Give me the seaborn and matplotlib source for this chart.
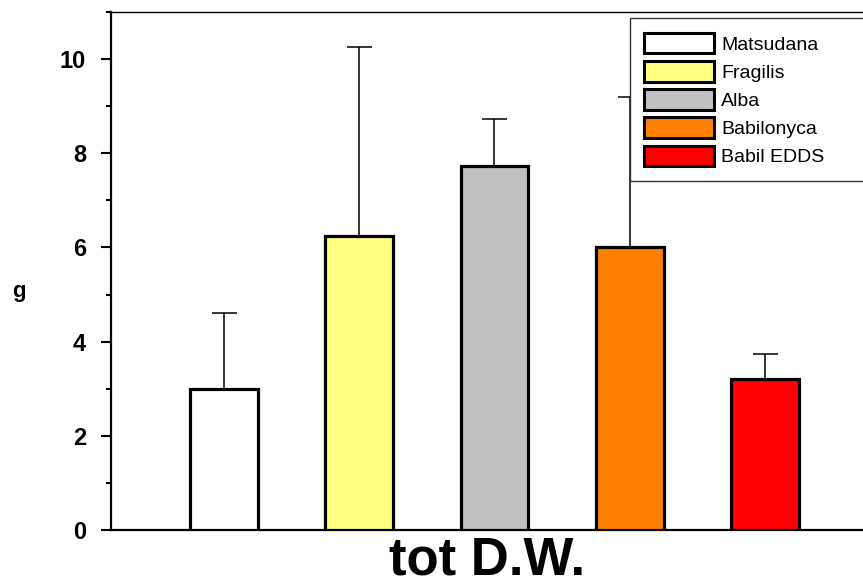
import matplotlib
matplotlib.use("Agg")
import matplotlib.pyplot as plt
from matplotlib.patches import Patch
from matplotlib.ticker import MultipleLocator
import numpy as np
import pandas as pd
import seaborn as sns

# Total dry weight per willow clone (mean and upper error)
species = ["Matsudana", "Fragilis", "Alba", "Babilonyca", "Babil EDDS"]
dry_weight = [3.0, 6.25, 7.72, 6.0, 3.2]
error = [1.6, 4.0, 1.0, 3.2, 0.53]
colors = ["#FFFFFF", "#FFFF80", "#C0C0C0", "#FF8000", "#FF0000"]

sns.set_theme(style="white")
plt.rcParams["font.family"] = ["Liberation Sans", "DejaVu Sans"]
plt.rcParams["text.color"] = "black"
plt.rcParams["axes.labelcolor"] = "black"
plt.rcParams["ytick.color"] = "black"
plt.rcParams["xtick.color"] = "black"

fig = plt.figure(figsize=(8.63, 5.88), dpi=100)
ax = fig.add_axes([111 / 863, 58 / 588, 752 / 863, 518 / 588])

df = pd.DataFrame({"species": species, "value": dry_weight})
sns.barplot(data=df, x="species", y="value", hue="species",
            palette=colors, width=0.5, legend=False, errorbar=None,
            edgecolor="black", linewidth=2.3, saturation=1, ax=ax, zorder=3)

x = np.arange(len(species))
ax.errorbar(x, dry_weight, yerr=[np.zeros(len(error)), error], fmt="none",
            ecolor="black", elinewidth=1.1, capsize=9, capthick=1.1, zorder=2)

ax.set_xlim(-0.835, 4.725)
ax.set_ylim(0, 11)
ax.yaxis.set_major_locator(MultipleLocator(2))
ax.yaxis.set_minor_locator(MultipleLocator(1))
ax.tick_params(axis="y", which="major", direction="out", length=7, width=1.5,
               left=True, labelsize=17, pad=11, colors="black")
ax.tick_params(axis="y", which="minor", direction="out", length=3.5, width=1.5,
               left=True, colors="black")
for lab in ax.get_yticklabels():
    lab.set_fontweight("bold")
ax.set_xticks([])

for side in ["left", "bottom"]:
    ax.spines[side].set_linewidth(1.6)
    ax.spines[side].set_color("black")
ax.spines["top"].set_linewidth(1.0)
ax.spines["top"].set_color("black")
ax.spines["right"].set_visible(False)

ax.set_xlabel("tot D.W.", fontsize=38, fontweight="bold", labelpad=4,
              color="black")
ax.set_ylabel("g", fontsize=16, fontweight="bold", rotation=0, labelpad=0,
              color="black")
ax.yaxis.set_label_coords(-0.123, 0.44)

handles = [Patch(facecolor=c, edgecolor="black", linewidth=2.2) for c in colors]
leg = ax.legend(handles, species, loc="upper left",
                bbox_to_anchor=(0.69, 0.0, 0.35, 0.988), mode="expand",
                fontsize=14, handlelength=3.6, handleheight=1.25,
                handletextpad=0.35, labelspacing=0.38, borderpad=0.75,
                frameon=True, fancybox=False, framealpha=1, borderaxespad=0)
leg.get_frame().set_edgecolor("#333333")
leg.get_frame().set_linewidth(1.0)
leg.set_zorder(5)
for t in leg.get_texts():
    t.set_color("black")

fig.savefig("out.png", dpi=100)
